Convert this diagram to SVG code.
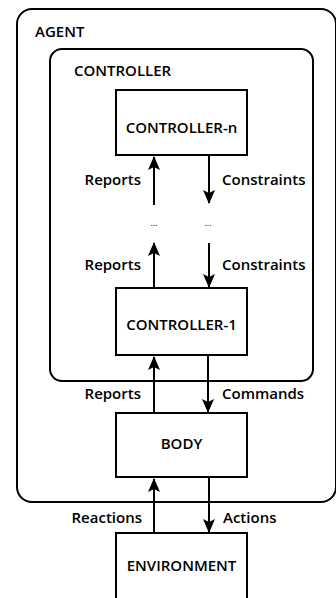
<svg xmlns="http://www.w3.org/2000/svg" width="336" height="598" viewBox="0 0 336 598">
<style>
.frame{fill:none;stroke:#000;stroke-width:2}
.box{fill:#fff;stroke:#000;stroke-width:2}
.t{font-family:"Open Sans","Noto Sans",sans-serif;font-weight:600;font-size:15px;fill:#000}
.c{text-anchor:middle}
.r{text-anchor:end}
.dots{font-family:"Open Sans","Noto Sans",sans-serif;font-weight:400;font-size:9px;fill:#000;text-anchor:middle}
.ln{stroke:#000;stroke-width:2;fill:none}
</style>
<defs>
<marker id="ah" viewBox="0 0 14 12" refX="13" refY="6" markerWidth="14" markerHeight="12" markerUnits="userSpaceOnUse" orient="auto">
<path d="M0,0 L14,6 L0,12 L3,6 Z" fill="#000"/>
</marker>
</defs>
<g id="agent">
<rect class="frame" x="17" y="9" width="319" height="493" rx="15"/>
<text class="t" x="35" y="37">AGENT</text>
</g>
<g id="controller">
<rect class="frame" x="50" y="49" width="263" height="332" rx="12"/>
<text class="t" x="74" y="76">CONTROLLER</text>
</g>
<g id="controller-n">
<rect class="box" x="116" y="90" width="131" height="65"/>
<text class="t c" x="181.5" y="133">CONTROLLER-n</text>
</g>
<g id="controller-1">
<rect class="box" x="116" y="288" width="131" height="67"/>
<text class="t c" x="181.5" y="330">CONTROLLER-1</text>
</g>
<g id="body">
<rect class="box" x="116" y="413" width="131" height="64"/>
<text class="t c" x="181.5" y="449">BODY</text>
</g>
<g id="environment">
<rect class="box" x="116" y="533" width="131" height="70"/>
<text class="t c" x="181.5" y="571">ENVIRONMENT</text>
</g>
<g id="connectors">
<line class="ln" x1="154" y1="205" x2="154" y2="157" marker-end="url(#ah)"/>
<line class="ln" x1="209" y1="156" x2="209" y2="203" marker-end="url(#ah)"/>
<text class="dots" x="154" y="226">...</text>
<text class="dots" x="208" y="226">...</text>
<line class="ln" x1="154" y1="287" x2="154" y2="243" marker-end="url(#ah)"/>
<line class="ln" x1="209" y1="243" x2="209" y2="287" marker-end="url(#ah)"/>
<line class="ln" x1="154" y1="412" x2="154" y2="357" marker-end="url(#ah)"/>
<line class="ln" x1="208" y1="356" x2="208" y2="412" marker-end="url(#ah)"/>
<line class="ln" x1="154" y1="532" x2="154" y2="479" marker-end="url(#ah)"/>
<line class="ln" x1="209" y1="478" x2="209" y2="532" marker-end="url(#ah)"/>
<text class="t r" x="141" y="185">Reports</text>
<text class="t" x="222" y="185">Constraints</text>
<text class="t r" x="141" y="270">Reports</text>
<text class="t" x="222" y="270">Constraints</text>
<text class="t r" x="141" y="399">Reports</text>
<text class="t" x="222" y="399">Commands</text>
<text class="t r" x="142" y="523">Reactions</text>
<text class="t" x="223" y="523">Actions</text>
</g>
</svg>
